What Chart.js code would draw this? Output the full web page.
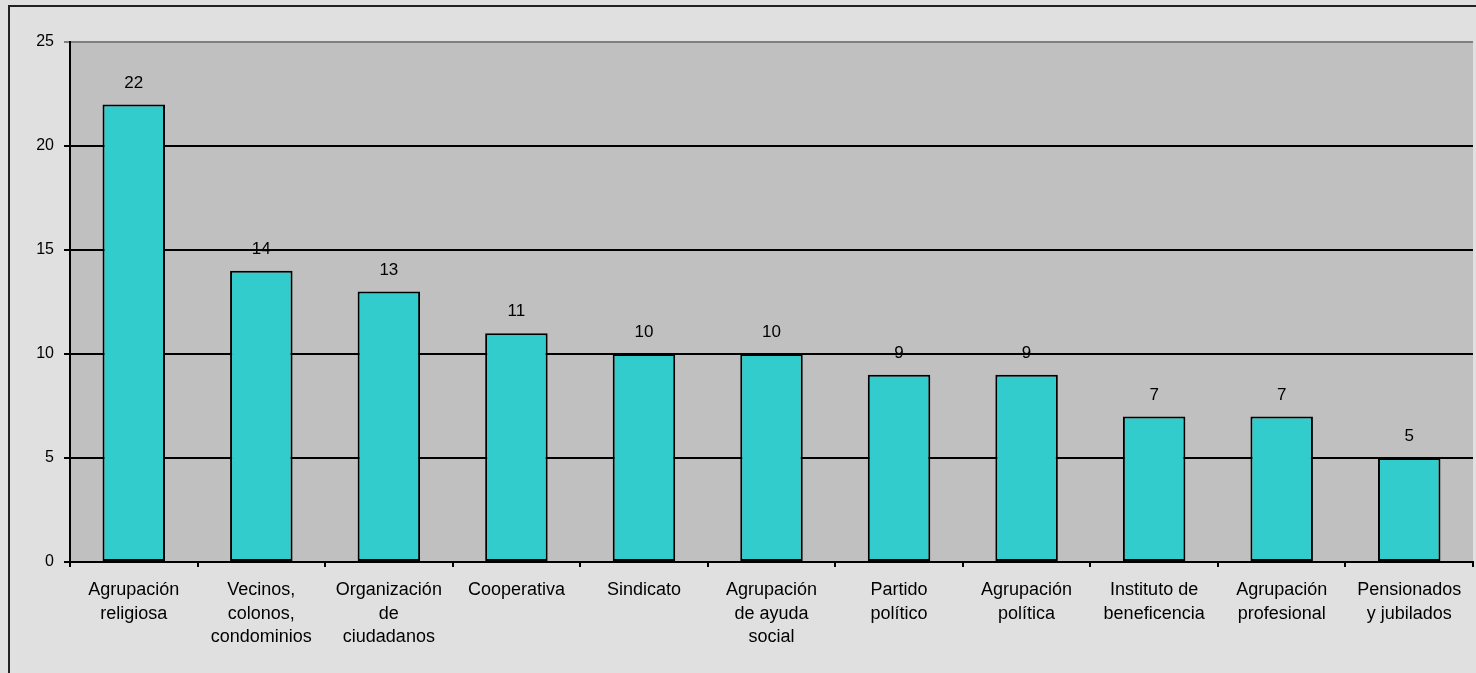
<!DOCTYPE html>
<html>
<head>
<meta charset="utf-8">
<script src="https://cdn.jsdelivr.net/npm/chart.js@4.4.0/dist/chart.umd.min.js"></script>
<style>
html,body{margin:0;padding:0;background:#e0e0e0;}
#wrap{width:1476px;height:673px;}
</style>
</head>
<body>
<div id="wrap"><canvas id="c" width="1476" height="673"></canvas></div>
<script>
const categories = [
  ["Agrupación","religiosa"],
  ["Vecinos,","colonos,","condominios"],
  ["Organización","de","ciudadanos"],
  ["Cooperativa"],
  ["Sindicato"],
  ["Agrupación","de ayuda","social"],
  ["Partido","político"],
  ["Agrupación","política"],
  ["Instituto de","beneficencia"],
  ["Agrupación","profesional"],
  ["Pensionados","y jubilados"]
];
const values = [22, 14, 13, 11, 10, 10, 9, 9, 7, 7, 5];
const yTicks = [0, 5, 10, 15, 20, 25];

const FONT = "'Liberation Sans', Arial, sans-serif";

const stylePlugin = {
  id: 'stylePlugin',
  beforeDraw(chart){
    const ctx = chart.ctx;
    const a = chart.chartArea;
    ctx.save();
    ctx.fillStyle = '#e0e0e0';
    ctx.fillRect(0,0,chart.width,chart.height);
    ctx.fillStyle = '#c0c0c0';
    ctx.fillRect(a.left, a.top, a.right-a.left, a.bottom-a.top);
    ctx.strokeStyle = '#222';
    ctx.lineWidth = 2;
    ctx.beginPath();
    ctx.moveTo(9, chart.height);
    ctx.lineTo(9, 6);
    ctx.lineTo(chart.width, 6);
    ctx.stroke();
    ctx.restore();
  },
  afterDatasetsDraw(chart){
    const ctx = chart.ctx;
    const meta = chart.getDatasetMeta(0);
    ctx.save();
    ctx.font = '17px ' + FONT;
    ctx.fillStyle = '#000';
    ctx.textAlign = 'center';
    ctx.textBaseline = 'middle';
    meta.data.forEach((bar, i) => {
      ctx.fillText(String(values[i]), bar.x, bar.y - 21.5);
    });
    ctx.restore();
  }
};

new Chart(document.getElementById('c'), {
  type: 'bar',
  data: {
    labels: categories,
    datasets: [{
      data: values,
      backgroundColor: '#33cccc',
      borderColor: '#000000',
      borderWidth: 2,
      borderSkipped: false,
      barPercentage: 0.49,
      categoryPercentage: 1
    }]
  },
  options: {
    responsive: false,
    devicePixelRatio: 1,
    animation: false,
    layout: { padding: { left: 10, top: 42, right: 3, bottom: 0 } },
    plugins: { legend: { display: false }, tooltip: { enabled: false }, title: { display: false } },
    scales: {
      x: {
        offset: true,
        grid: { display: true, drawOnChartArea: false, offset: true, color: '#000', tickLength: 5, lineWidth: 2 },
        border: { display: true, color: '#000', width: 2 },
        ticks: { color: '#000', font: { family: FONT, size: 18, lineHeight: 1.28 }, padding: 12, maxRotation: 0, minRotation: 0, autoSkip: false },
        afterFit(scale){ scale.height = 111; }
      },
      y: {
        min: 0, max: 25,
        afterBuildTicks(scale){ scale.ticks = yTicks.map(v => ({ value: v })); },
        grid: {
          color: ctx => (ctx.tick && ctx.tick.value === 25) ? '#7f7f7f' : '#000',
          lineWidth: 2,
          tickLength: 6
        },
        border: { display: true, color: '#000', width: 2 },
        ticks: { color: '#000', font: { family: FONT, size: 16 }, padding: 10 },
        afterFit(scale){ scale.width = 60; }
      }
    }
  },
  plugins: [stylePlugin]
});
</script>
</body>
</html>
